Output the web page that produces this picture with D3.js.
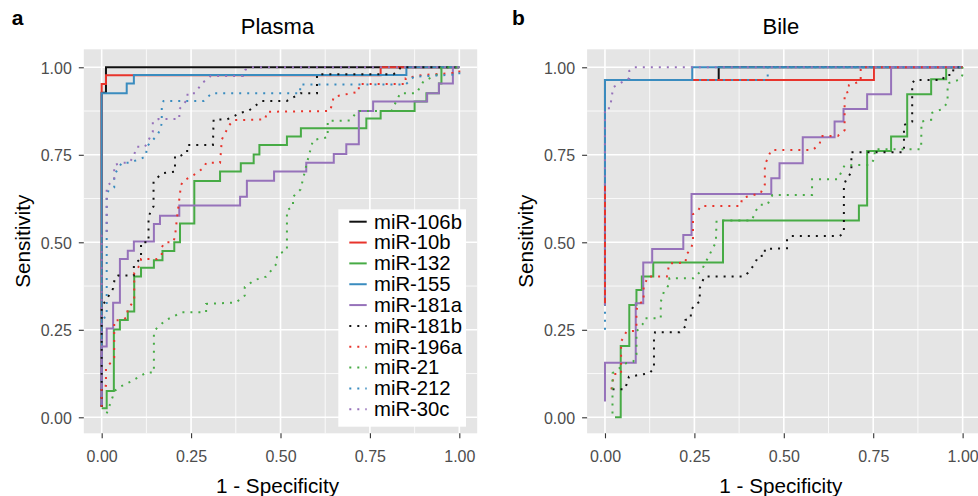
<!DOCTYPE html>
<html>
<head>
<meta charset="utf-8">
<script src="https://cdn.jsdelivr.net/npm/d3@7"></script>
<style>
  body { margin: 0; background: #fff; }
  svg text { font-family: "Liberation Sans", Arial, Helvetica, sans-serif; }
</style>
</head>
<body>
<svg id="chart" width="978" height="496"></svg>
<script>
// ---- data ----
const mirnas = ["miR-106b", "miR-10b", "miR-132", "miR-155", "miR-181a",
                "miR-181b", "miR-196a", "miR-21", "miR-212", "miR-30c"];
const panelTitles = ["Plasma", "Bile"];
const panelLetters = ["a", "b"];
const tickValues = [0, 0.25, 0.5, 0.75, 1];
const tickLabels = ["0.00", "0.25", "0.50", "0.75", "1.00"];
const xTitle = "1 - Specificity";
const yTitle = "Sensitivity";

// plasma ROC points: [1 - specificity, sensitivity]
const plasma106b = [[0,0.03],[0,0.927],[0.012,0.927],[0.012,1],[1,1]];
const plasma10b = [[0,0.03],[0,0.952],[0.012,0.952],[0.012,0.977],[0.78,0.977],[0.78,1],[1,1]];
const plasma132 = [[0,0.026],[0.014,0.026],[0.014,0.075],[0.034,0.075],[0.034,0.251],[0.051,0.251],[0.051,0.278],
  [0.073,0.278],[0.073,0.302],[0.091,0.302],[0.091,0.402],[0.110,0.402],[0.110,0.427],[0.146,0.427],[0.146,0.449],
  [0.170,0.449],[0.170,0.475],[0.203,0.475],[0.203,0.5],[0.219,0.5],[0.219,0.554],[0.259,0.554],[0.259,0.675],
  [0.331,0.675],[0.331,0.702],[0.389,0.702],[0.389,0.726],[0.425,0.726],[0.425,0.751],[0.441,0.751],[0.441,0.778],
  [0.518,0.778],[0.518,0.802],[0.557,0.802],[0.557,0.826],[0.740,0.826],[0.740,0.854],[0.780,0.854],[0.780,0.875],
  [0.875,0.875],[0.875,0.902],[0.908,0.902],[0.908,0.926],[0.943,0.926],[0.943,0.954],[0.950,0.954],[0.950,1],[1,1]];
const plasma155 = [[0,0.03],[0,0.926],[0.07,0.926],[0.07,0.954],[0.09,0.954],[0.09,0.978],[0.852,0.978],[0.852,1],[1,1]];
const plasma181a = [[0,0.035],[0,0.202],[0.014,0.202],[0.014,0.254],[0.032,0.254],[0.032,0.327],[0.051,0.327],
  [0.051,0.452],[0.073,0.452],[0.073,0.476],[0.090,0.476],[0.090,0.502],[0.146,0.502],[0.146,0.552],[0.163,0.552],
  [0.163,0.576],[0.217,0.576],[0.217,0.605],[0.387,0.605],[0.387,0.630],[0.406,0.630],[0.406,0.676],[0.482,0.676],
  [0.482,0.702],[0.572,0.702],[0.572,0.727],[0.649,0.727],[0.649,0.752],[0.684,0.752],[0.684,0.780],[0.719,0.780],
  [0.719,0.875],[0.759,0.875],[0.759,0.902],[0.910,0.902],[0.910,0.926],[0.943,0.926],[0.943,0.954],[0.982,0.954],
  [0.982,1],[1,1]];
const plasma181b = [[0,0.03],[0,0.317],[0.012,0.334],[0.032,0.368],[0.037,0.4],[0.046,0.405],[0.09,0.405],
  [0.09,0.435],[0.110,0.455],[0.110,0.5],[0.131,0.5],[0.131,0.574],[0.145,0.603],[0.145,0.674],[0.155,0.684],
  [0.169,0.697],[0.205,0.702],[0.205,0.746],[0.219,0.746],[0.239,0.757],[0.239,0.778],[0.311,0.778],[0.313,0.851],
  [0.35,0.851],[0.368,0.859],[0.388,0.870],[0.41,0.875],[0.432,0.892],[0.448,0.904],[0.518,0.904],[0.556,0.926],
  [0.602,0.926],[0.602,0.980],[0.816,0.980],[0.831,0.992],[0.836,1],[1,1]];
const plasma196a = [[0,0.03],[0,0.09],[0.012,0.09],[0.012,0.14],[0.024,0.155],[0.035,0.17],[0.035,0.277],
  [0.056,0.277],[0.07,0.285],[0.073,0.309],[0.091,0.334],[0.091,0.412],[0.11,0.44],[0.11,0.452],[0.154,0.452],
  [0.168,0.463],[0.168,0.486],[0.177,0.5],[0.2,0.5],[0.205,0.516],[0.21,0.564],[0.219,0.64],[0.222,0.664],
  [0.229,0.676],[0.257,0.692],[0.287,0.714],[0.292,0.727],[0.331,0.727],[0.336,0.794],[0.357,0.835],[0.369,0.849],
  [0.457,0.851],[0.462,0.873],[0.639,0.875],[0.649,0.916],[0.719,0.93],[0.719,0.952],[0.85,0.952],[0.85,0.969],
  [0.896,0.978],[0.943,0.981],[1,0.985],[1,1]];
const plasma21 = [[0.014,0.011],[0.037,0.076],[0.053,0.088],[0.081,0.102],[0.125,0.128],[0.146,0.128],[0.146,0.245],
  [0.156,0.257],[0.18,0.278],[0.225,0.3],[0.292,0.3],[0.292,0.324],[0.376,0.328],[0.4,0.348],[0.4,0.372],
  [0.427,0.392],[0.46,0.402],[0.49,0.44],[0.49,0.464],[0.518,0.478],[0.518,0.592],[0.535,0.602],[0.535,0.63],
  [0.556,0.651],[0.574,0.727],[0.591,0.792],[0.632,0.8],[0.632,0.847],[0.695,0.848],[0.715,0.875],[0.81,0.875],
  [0.835,0.926],[0.88,0.926],[0.9,0.96],[0.94,0.98],[0.95,1],[1,1]];
const plasma212 = [[0,0.035],[0,0.28],[0.014,0.288],[0.014,0.635],[0.020,0.65],[0.035,0.657],[0.035,0.692],
  [0.056,0.727],[0.077,0.727],[0.112,0.740],[0.124,0.746],[0.126,0.773],[0.156,0.807],[0.163,0.821],[0.168,0.84],
  [0.168,0.888],[0.173,0.904],[0.285,0.904],[0.308,0.926],[0.555,0.926],[0.555,0.951],[0.85,0.951],[0.873,0.973],
  [1,0.98],[1,1]];
const plasma30c = [[0,0.035],[0,0.52],[0.014,0.53],[0.014,0.66],[0.035,0.678],[0.035,0.721],[0.056,0.727],
  [0.077,0.727],[0.089,0.745],[0.098,0.773],[0.121,0.773],[0.131,0.792],[0.143,0.816],[0.143,0.845],[0.159,0.852],
  [0.217,0.852],[0.217,0.88],[0.24,0.909],[0.24,0.926],[0.261,0.926],[0.28,0.954],[0.305,0.975],[0.395,0.975],
  [0.401,0.992],[0.411,1],[1,1]];

// bile ROC points: [1 - specificity, sensitivity]
const bile106b = [[0,0.32],[0,0.964],[0.318,0.964],[0.318,1],[1,1]];
const bile10b = [[0,0.32],[0,0.964],[0.752,0.964],[0.752,1],[1,1]];
const bile132 = [[0.028,0],[0.044,0],[0.044,0.204],[0.068,0.204],[0.068,0.321],[0.088,0.321],[0.088,0.364],
  [0.103,0.364],[0.103,0.402],[0.135,0.402],[0.135,0.442],[0.330,0.442],[0.330,0.562],[0.710,0.562],[0.710,0.605],
  [0.733,0.605],[0.733,0.761],[0.8,0.761],[0.8,0.802],[0.845,0.802],[0.845,0.923],[0.912,0.923],[0.912,0.966],
  [0.954,0.966],[0.954,1],[1,1]];
const bile155 = [[0,0.664],[0,0.964],[0.244,0.964],[0.244,1],[1,1]];
const bile181a = [[0,0.045],[0,0.156],[0.086,0.156],[0.086,0.326],[0.107,0.326],[0.107,0.442],[0.132,0.442],
  [0.132,0.481],[0.219,0.481],[0.219,0.521],[0.242,0.521],[0.242,0.638],[0.465,0.638],[0.465,0.683],[0.488,0.683],
  [0.488,0.726],[0.553,0.726],[0.553,0.8],[0.642,0.8],[0.642,0.845],[0.667,0.845],[0.667,0.881],[0.733,0.881],
  [0.733,0.923],[0.8,0.923],[0.8,1],[1,1]];
const bile181b = [[0.021,0.08],[0.056,0.08],[0.067,0.116],[0.124,0.126],[0.137,0.14],[0.137,0.226],[0.14,0.243],
  [0.209,0.243],[0.225,0.26],[0.225,0.278],[0.24,0.283],[0.24,0.304],[0.25,0.321],[0.265,0.33],[0.265,0.369],
  [0.278,0.402],[0.388,0.402],[0.4,0.413],[0.42,0.44],[0.428,0.46],[0.447,0.462],[0.447,0.481],[0.509,0.483],
  [0.509,0.509],[0.52,0.518],[0.656,0.518],[0.668,0.526],[0.668,0.664],[0.675,0.68],[0.689,0.7],[0.689,0.757],
  [0.836,0.757],[0.836,0.835],[0.859,0.845],[0.859,0.954],[0.866,0.964],[0.944,0.964],[0.95,0.978],[0.972,0.978],
  [0.975,1],[1,1]];
const bile196a = [[0.018,0.08],[0.025,0.124],[0.045,0.124],[0.045,0.216],[0.06,0.245],[0.082,0.247],[0.088,0.26],
  [0.088,0.307],[0.095,0.326],[0.108,0.33],[0.108,0.371],[0.12,0.402],[0.173,0.402],[0.18,0.44],[0.225,0.442],
  [0.228,0.466],[0.24,0.48],[0.246,0.5],[0.246,0.58],[0.26,0.59],[0.268,0.604],[0.379,0.604],[0.384,0.627],
  [0.435,0.64],[0.447,0.665],[0.447,0.721],[0.457,0.745],[0.465,0.764],[0.581,0.764],[0.6,0.78],[0.605,0.804],
  [0.651,0.804],[0.67,0.82],[0.67,0.926],[0.682,0.93],[0.682,0.949],[0.715,0.96],[0.715,1],[1,1]];
const bile21 = [[0.021,0.011],[0.021,0.126],[0.04,0.14],[0.06,0.155],[0.079,0.159],[0.088,0.18],[0.088,0.245],
  [0.105,0.265],[0.111,0.283],[0.156,0.283],[0.156,0.33],[0.165,0.36],[0.18,0.38],[0.18,0.397],[0.248,0.397],
  [0.27,0.42],[0.29,0.46],[0.31,0.5],[0.312,0.562],[0.41,0.562],[0.423,0.592],[0.433,0.607],[0.454,0.607],
  [0.468,0.635],[0.579,0.635],[0.579,0.68],[0.651,0.68],[0.67,0.72],[0.742,0.721],[0.754,0.74],[0.754,0.766],
  [0.884,0.766],[0.885,0.845],[0.912,0.85],[0.912,0.869],[0.944,0.881],[0.958,0.9],[0.958,0.954],[0.995,0.966],
  [1,0.98],[1,1]];
const bile212 = [[0,0.25],[0,0.964],[0.455,0.964],[0.455,1],[1,1]];
const bile30c = [[0,0.32],[0,0.883],[0.014,0.883],[0.023,0.943],[0.068,0.969],[0.068,0.99],[0.079,1],[1,1]];

const plasmaCurves = [plasma106b, plasma10b, plasma132, plasma155, plasma181a,
                      plasma181b, plasma196a, plasma21, plasma212, plasma30c];
const bileCurves = [bile106b, bile10b, bile132, bile155, bile181a,
                    bile181b, bile196a, bile21, bile212, bile30c];

// ---- style ----
const colors = ["#111111", "#E8342C", "#47AB45", "#3A8CBF", "#9672BA",
                "#111111", "#E8342C", "#47AB45", "#3A8CBF", "#9672BA"];
const dotted = [false, false, false, false, false, true, true, true, true, true];
const dash = "2,6";

const svg = d3.select("#chart");
const panelTop = 49.3, panelBottom = 433.3;
const panels = [
  { left: 83.8, right: 477.2, letterX: 11.8, curves: plasmaCurves },
  { left: 587.1, right: 980.5, letterX: 512, curves: bileCurves }
];
const minor = [0.125, 0.375, 0.625, 0.875];

panels.forEach((p, pi) => {
  const x = d3.scaleLinear().domain([-0.05, 1.05]).range([p.left, p.right]);
  const y = d3.scaleLinear().domain([-0.0457, 1.0514]).range([panelBottom, panelTop]);
  const g = svg.append("g");

  // panel background
  g.append("rect")
    .attr("x", p.left).attr("y", panelTop)
    .attr("width", p.right - p.left).attr("height", panelBottom - panelTop)
    .attr("fill", "#E5E5E5");

  // grid
  const grid = (vals, w) => {
    vals.forEach(v => {
      g.append("line").attr("x1", x(v)).attr("x2", x(v)).attr("y1", panelTop).attr("y2", panelBottom)
        .attr("stroke", "#fff").attr("stroke-width", w);
      g.append("line").attr("x1", p.left).attr("x2", p.right).attr("y1", y(v)).attr("y2", y(v))
        .attr("stroke", "#fff").attr("stroke-width", w);
    });
  };
  grid(minor, 0.8);
  grid(tickValues, 1.6);

  // curves
  const line = d3.line().x(d => x(d[0])).y(d => y(d[1]));
  p.curves.forEach((c, i) => {
    g.append("path")
      .attr("d", line(c))
      .attr("fill", "none")
      .attr("stroke", colors[i])
      .attr("stroke-width", 2)
      .attr("stroke-dasharray", dotted[i] ? dash : null);
  });

  // axes
  const xAxis = g.append("g")
    .attr("transform", "translate(0," + panelBottom + ")")
    .call(d3.axisBottom(x).tickValues(tickValues).tickFormat((d, i) => tickLabels[i])
      .tickSize(5).tickPadding(12));
  const yAxis = g.append("g")
    .attr("transform", "translate(" + p.left + ",0)")
    .call(d3.axisLeft(y).tickValues(tickValues).tickFormat((d, i) => tickLabels[i])
      .tickSize(5).tickPadding(7));
  [xAxis, yAxis].forEach(a => {
    a.select(".domain").remove();
    a.selectAll(".tick line").attr("stroke", "#333").attr("stroke-width", 1.1);
    a.selectAll(".tick text").attr("fill", "#4D4D4D").attr("font-size", 16)
      .attr("font-family", '"Liberation Sans", Arial, sans-serif');
  });
  yAxis.selectAll(".tick text").attr("dy", "0.36em");

  const cx = (p.left + p.right) / 2 - 3;
  // panel title
  svg.append("text").attr("x", cx).attr("y", 34).attr("text-anchor", "middle")
    .attr("font-size", 22).attr("fill", "#000").text(panelTitles[pi]);
  // panel letter
  svg.append("text").attr("x", p.letterX).attr("y", 25).attr("font-size", 21)
    .attr("font-weight", "bold").attr("fill", "#000").text(panelLetters[pi]);
  // axis titles
  svg.append("text").attr("x", cx).attr("y", 493).attr("text-anchor", "middle")
    .attr("font-size", 20.7).attr("fill", "#000").text(xTitle);
  svg.append("text")
    .attr("transform", "translate(" + (p.left - 54) + "," + ((panelTop + panelBottom) / 2) + ") rotate(-90)")
    .attr("text-anchor", "middle").attr("font-size", 20.7).attr("fill", "#000").text(yTitle);
});

// legend (inside plasma panel)
const lg = svg.append("g");
lg.append("rect").attr("x", 338.3).attr("y", 209.3).attr("width", 127.7).attr("height", 217.4).attr("fill", "#fff");
const legendY = d3.scalePoint().domain(mirnas).range([221.7, 409.3]);
mirnas.forEach((m, i) => {
  lg.append("line").attr("x1", 349.3).attr("x2", 366.7)
    .attr("y1", legendY(m)).attr("y2", legendY(m))
    .attr("stroke", colors[i]).attr("stroke-width", 2)
    .attr("stroke-dasharray", dotted[i] ? dash : null);
  lg.append("text").attr("x", 374).attr("y", legendY(m) + 6.8)
    .attr("font-size", 20.3).attr("fill", "#000").text(m);
});
</script>
</body>
</html>
